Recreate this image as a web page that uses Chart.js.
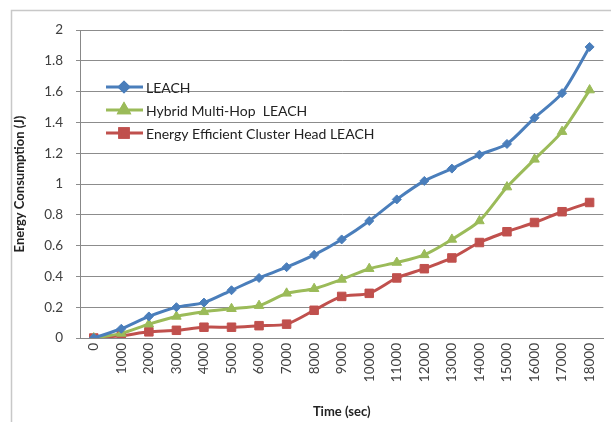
<!DOCTYPE html>
<html>
<head>
<meta charset="utf-8">
<script src="https://cdn.jsdelivr.net/npm/chart.js@4"></script>
<style>
  html, body { margin:0; padding:0; background:#fff; overflow:hidden; }
  #wrap { position:relative; width:611px; height:422px; }
</style>
</head>
<body>
<div id="wrap"><canvas id="chart" width="611" height="422"></canvas></div>
<script>
// Time (sec) categories
const timeLabels = ['0','1000','2000','3000','4000','5000','6000','7000','8000','9000',
  '10000','11000','12000','13000','14000','15000','16000','17000','18000'];

// Energy consumption (J)
const leach  = [0, 0.06, 0.14, 0.20, 0.23, 0.31, 0.39, 0.46, 0.54, 0.64,
                0.76, 0.90, 1.02, 1.10, 1.19, 1.26, 1.43, 1.59, 1.89];
const hybrid = [0, 0.03, 0.09, 0.14, 0.17, 0.19, 0.21, 0.29, 0.32, 0.38,
                0.45, 0.49, 0.54, 0.64, 0.76, 0.98, 1.16, 1.34, 1.61];
const eeche  = [0, 0.015, 0.04, 0.05, 0.07, 0.07, 0.08, 0.09, 0.18, 0.27,
                0.29, 0.39, 0.45, 0.52, 0.62, 0.69, 0.75, 0.82, 0.88];

const seriesNames = ['LEACH', 'Hybrid Multi-Hop  LEACH', 'Energy Efficient Cluster Head LEACH'];

const FONT = 'Lato, "Open Sans", sans-serif';

// outer frame like the Excel chart border
const framePlugin = {
  id: 'frame',
  beforeDraw(chart){
    const c = chart.ctx;
    c.save();
    c.fillStyle = '#fff';
    c.fillRect(0, 0, chart.width, chart.height);
    c.strokeStyle = '#c8c8c8';
    c.lineWidth = 1.5;
    c.strokeRect(11.5, 10.5, 700, 500);
    c.restore();
  }
};

// legend drawn inside the plot, top-left
const insideLegend = {
  id: 'insideLegend',
  afterDatasetsDraw(chart){
    const c = chart.ctx;
    const ys = [87, 110, 133];
    c.save();
    chart.data.datasets.forEach((ds, i) => {
      const y = ys[i];
      c.strokeStyle = ds.borderColor;
      c.lineWidth = 3;
      c.beginPath(); c.moveTo(106, y); c.lineTo(143, y); c.stroke();
      Chart.helpers.drawPoint(c, {
        pointStyle: ds.pointStyle,
        radius: ds.pointRadius,
        borderWidth: 1,
        rotation: 0
      }, 124, y);
      c.fillStyle = ds.backgroundColor;
      c.strokeStyle = ds.borderColor;
      c.fill(); c.stroke();
      c.fillStyle = '#222';
      c.font = '14px ' + FONT;
      c.textBaseline = 'middle';
      c.fillText(seriesNames[i], 146, y + 1);
    });
    c.restore();
  }
};

function ds(label, data, color, style, r){
  return {
    label, data,
    borderColor: color,
    backgroundColor: color,
    borderWidth: 3,
    pointStyle: style,
    pointRadius: r,
    pointHoverRadius: r,
    pointBorderWidth: 1,
    tension: 0.25
  };
}

new Chart(document.getElementById('chart'), {
  type: 'line',
  data: {
    labels: timeLabels,
    datasets: [
      ds(seriesNames[0], leach,  '#4a7ebb', 'rectRot', 4.5),
      ds(seriesNames[1], hybrid, '#9bbb59', 'triangle', 5.5),
      ds(seriesNames[2], eeche,  '#c0504d', 'rect', 6)
    ]
  },
  options: {
    responsive: false,
    animation: false,
    layout: { padding: { left: 12, right: 7, top: 30, bottom: 2 } },
    plugins: { legend: { display: false }, tooltip: { enabled: false } },
    scales: {
      x: {
        offset: true,
        grid: { display: false, drawTicks: false },
        border: { color: '#888', width: 1 },
        ticks: {
          color: '#404040',
          font: { family: FONT, size: 13.5 },
          minRotation: 90, maxRotation: 90,
          autoSkip: false,
          padding: 5
        },
        title: {
          display: true, text: 'Time (sec)', color: '#222',
          font: { family: FONT, size: 13, weight: 'bold' },
          padding: { top: 2, bottom: 0 }
        },
        afterFit(s){ s.height = 82; }
      },
      y: {
        min: 0, max: 2,
        grid: { color: '#8c8c8c', lineWidth: 1, tickLength: 4 },
        border: { color: '#888', width: 1 },
        ticks: {
          stepSize: 0.2,
          color: '#404040',
          font: { family: FONT, size: 13.5 },
          padding: 13,
          callback: v => Math.round(v * 10) / 10
        },
        title: {
          display: true, text: 'Energy Consumption (J)', color: '#222',
          font: { family: FONT, size: 13, weight: 'bold' },
          padding: { top: 0, bottom: 2 }
        },
        afterFit(s){ s.width = 68; }
      }
    }
  },
  plugins: [framePlugin, insideLegend]
});
</script>
</body>
</html>
